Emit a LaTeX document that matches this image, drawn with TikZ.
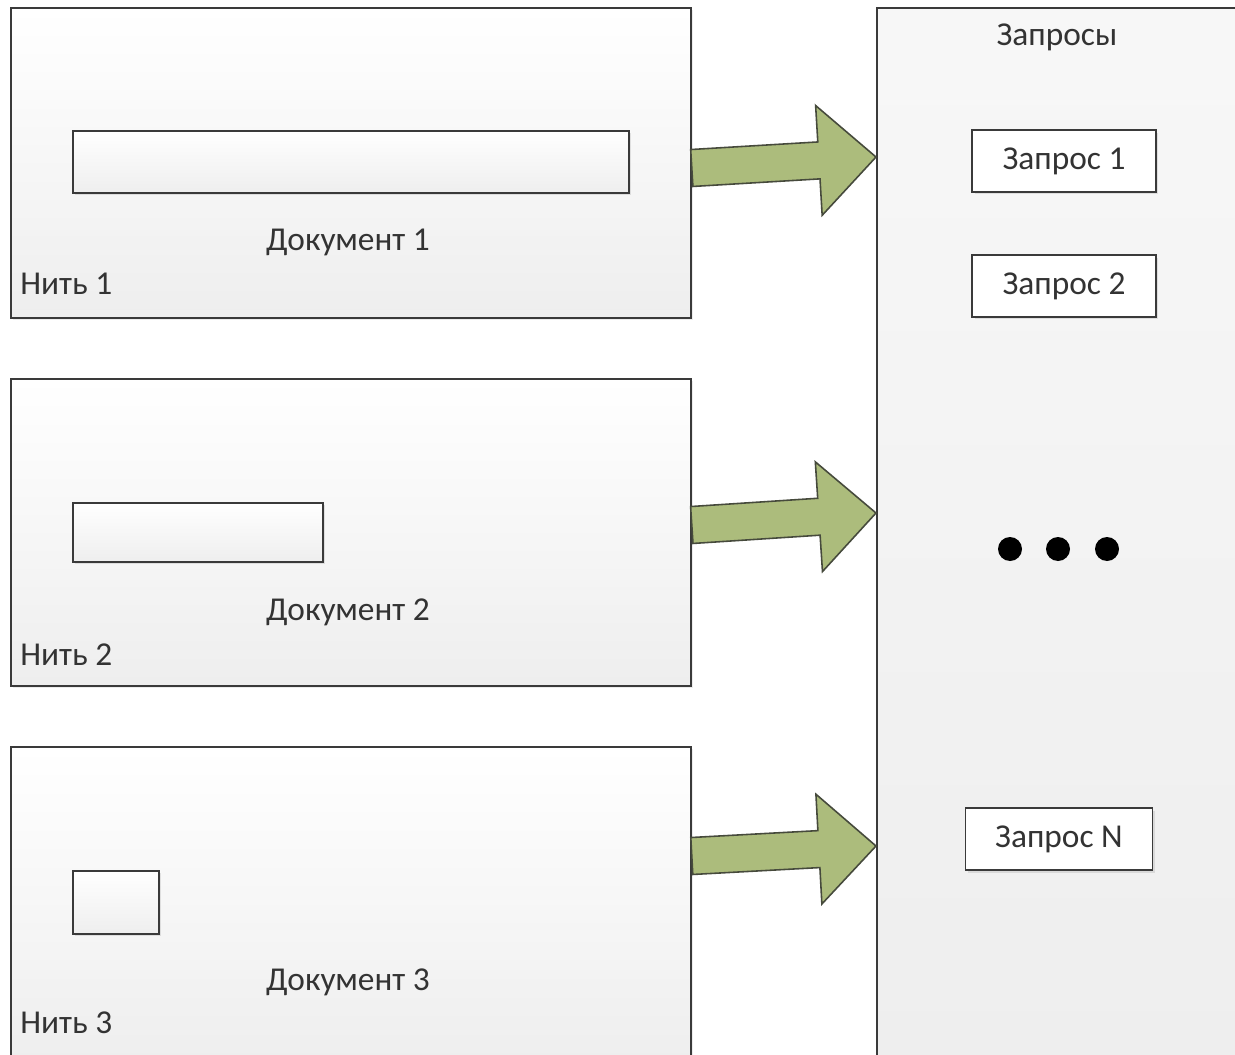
\documentclass[tikz,border=0pt]{standalone}
\usepackage{fontspec}
\setmainfont{Carlito}
\usepackage{tikz}
\usetikzlibrary{calc,positioning,shadows}

\definecolor{linegray}{RGB}{58,58,58}
\definecolor{boxlow}{RGB}{238,238,238}
\definecolor{olivefill}{RGB}{172,188,124}
\definecolor{oliveline}{RGB}{70,74,60}

% block arrow from tail centre #1 to tip #2
\newcommand\blockarrow[2]{%
  \path (#1) coordinate (ba-a) (#2) coordinate (ba-b)
        ($(ba-a)!0.69!(ba-b)$) coordinate (ba-h);
  \draw[barr] ($(ba-a)!0.37cm!90:(ba-b)$) -- ($(ba-h)!0.37cm!-90:(ba-a)$)
    -- ($(ba-h)!1.1cm!-90:(ba-a)$) -- (ba-b)
    -- ($(ba-h)!1.1cm!90:(ba-a)$) -- ($(ba-h)!0.37cm!90:(ba-a)$)
    -- ($(ba-a)!0.37cm!-90:(ba-b)$) -- cycle;}

\begin{document}
\begin{tikzpicture}[
    x=0.02cm, y=-0.02cm,
    every node/.style={font=\fontsize{19}{22}\selectfont, text=black!80},
    thread/.style={draw=linegray, line width=1.1pt, top color=white, bottom color=boxlow,
      anchor=north west, minimum width=13.6cm, inner sep=0pt,
      drop shadow={shadow xshift=0.04cm, shadow yshift=-0.04cm, opacity=0.15}},
    doc/.style={draw=linegray, line width=1.1pt, top color=white, bottom color=boxlow,
      anchor=north west, inner sep=0pt,
      drop shadow={shadow xshift=0.05cm, shadow yshift=-0.05cm, opacity=0.2}},
    req/.style={draw=linegray, line width=1.1pt, fill=white, minimum height=1.24cm,
      inner sep=0pt, drop shadow={shadow xshift=0.05cm, shadow yshift=-0.05cm, opacity=0.2}},
    dot/.style={circle, fill=black, minimum size=0.48cm, inner sep=0pt},
    barr/.style={fill=olivefill, draw=oliveline, line width=0.9pt, line join=miter},
  ]

  \useasboundingbox (0,0) rectangle (1235,1055);
  \clip (0,0) rectangle (1235,1055);

  % ── Threads ──────────────────────────────────────────────────────────────

  \node[thread, minimum height=6.2cm]  (thr1) at (10,7)   {};
  \node[thread, minimum height=6.14cm] (thr2) at (10,378) {};
  \node[thread, minimum height=6.3cm]  (thr3) at (10,746) {};

  % documents inside the threads
  \node[doc, minimum width=11.12cm, minimum height=1.24cm] (doc1) at (72,130) {};
  \node[doc, minimum width=5cm,     minimum height=1.18cm] (doc2) at (72,502) {};
  \node[doc, minimum width=1.72cm,  minimum height=1.26cm] (doc3) at (72,870) {};

  \node (doc1lbl) at (348,242) {Документ 1};
  \node (doc2lbl) at (348,612) {Документ 2};
  \node (doc3lbl) at (348,982) {Документ 3};

  \node[anchor=west, inner sep=0pt] (thr1lbl) at (20,284)  {Нить 1};
  \node[anchor=west, inner sep=0pt] (thr2lbl) at (20,655)  {Нить 2};
  \node[anchor=west, inner sep=0pt] (thr3lbl) at (20,1023) {Нить 3};

  % ── Requests ─────────────────────────────────────────────────────────────

  \node[draw=linegray, line width=1.1pt, top color=white!97!black, bottom color=boxlow,
        anchor=north west, minimum width=8cm, minimum height=21.2cm] (qry) at (876,7) {};
  \node (qrylbl) at (1057,37) {Запросы};

  \node[req, minimum width=3.68cm] (req1) at (1064,161) {Запрос 1};
  \node[req, minimum width=3.68cm] (req2) at (1064,286) {Запрос 2};
  \node[req, minimum width=3.74cm] (reqN) at (1059,839) {Запрос N};

  \node[dot] (dot1) at (1010,549) {};
  \node[dot] (dot2) at (1058,549) {};
  \node[dot] (dot3) at (1107,549) {};

  % ── Arrows ───────────────────────────────────────────────────────────────

  \coordinate (out1) at (thr1.east |- 0,168);
  \coordinate (out2) at (thr2.east |- 0,525);
  \coordinate (out3) at (thr3.east |- 0,856);
  \coordinate (in1)  at (qry.west |- 0,157);
  \coordinate (in2)  at (qry.west |- 0,513);
  \coordinate (in3)  at (qry.west |- 0,846);

  \blockarrow{out1}{in1}
  \blockarrow{out2}{in2}
  \blockarrow{out3}{in3}

\end{tikzpicture}
\end{document}
